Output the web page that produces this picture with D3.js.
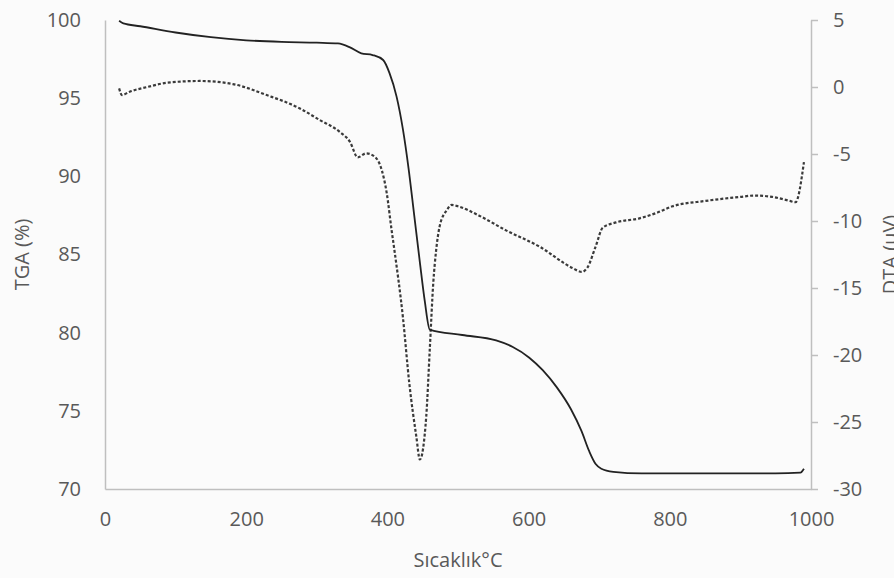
<!DOCTYPE html>
<html>
<head>
<meta charset="utf-8">
<script src="https://cdn.jsdelivr.net/npm/d3@7"></script>
<style>
  html, body { margin: 0; padding: 0; background: #fbfbfb; }
  svg { display: block; }
  .tick text, .axis-title { font-family: 'Open Sans', sans-serif; fill: #595959; }
</style>
</head>
<body>
<svg id="canvas"></svg>
<script>
////////////////////////////////////////////////////////////////////////////////
// Chart data.
////////////////////////////////////////////////////////////////////////////////

// TGA curve (temperature in °C, mass in %).
var tgaTemps = [20, 26, 50, 100, 150, 200, 250, 300, 330, 347, 363, 379, 394,
  403, 413, 422, 430, 438, 446, 453, 460, 506, 554, 577, 601, 620, 640, 660,
  675, 686, 695, 703, 720, 760, 850, 950, 985, 990];
var tgaValues = [99.95, 99.78, 99.6, 99.2, 98.9, 98.7, 98.6, 98.55, 98.5,
  98.25, 97.87, 97.76, 97.44, 96.6, 95.1, 93.0, 90.5, 87.5, 84.5, 82.0, 80.2,
  79.85, 79.5, 79.1, 78.4, 77.6, 76.5, 75.1, 73.7, 72.4, 71.6, 71.3, 71.1,
  71.0, 71.0, 71.0, 71.05, 71.3];

// DTA curve (temperature in °C, signal in µV).
var dtaTemps = [20, 24, 35, 60, 88, 134, 181, 229, 276, 304, 332, 347, 358,
  370, 382, 392, 399, 406, 410, 422, 431, 441, 446, 455, 460, 465, 469, 474,
  484, 491, 500, 530, 568, 615, 662, 675, 683, 695, 705, 724, 757, 781, 804,
  851, 900, 920, 945, 970, 978, 990];
var dtaValues = [-0.1, -0.6, -0.35, 0.0, 0.32, 0.45, 0.22, -0.6, -1.6, -2.46,
  -3.33, -4.1, -5.25, -4.95, -5.2, -6.2, -7.9, -10.7, -12.2, -17.2, -22.1,
  -26.1, -27.8, -24.6, -19.6, -14.6, -12.2, -10.4, -9.2, -8.8, -8.9, -9.6,
  -10.7, -11.9, -13.5, -13.8, -13.5, -11.9, -10.5, -10.1, -9.8, -9.4, -8.9,
  -8.5, -8.2, -8.1, -8.2, -8.5, -8.6, -5.6];

// Tick labels.
var xTicks = [0, 200, 400, 600, 800, 1000];
var tgaTicks = [70, 75, 80, 85, 90, 95, 100];
var dtaTicks = [-30, -25, -20, -15, -10, -5, 0, 5];

// Axis titles.
var titles = {
  x: 'Sıcaklık°C',
  left: 'TGA (%)',
  right: 'DTA (µV)'
};

// Translation function.
var translation = function(x, y, r) {
  return 'translate(' + x + ',' + y + ')' + 'rotate(' + r + ')';
}

// Plain number labels (no thousands separator, ascii minus).
var plain = function(d) { return String(d); };

// Canvas properties.
var canvas = { width: 894, height: 578 };

// Plot area.
var plot = { left: 105, right: 811, top: 20, bottom: 489 };

var axisColour = '#bfbfbf';
var fontSize = 20;

var svg = d3.select('#canvas')
            .attr('width', canvas.width)
            .attr('height', canvas.height);

////////////////////////////////////////////////////////////////////////////////
// Scales.
////////////////////////////////////////////////////////////////////////////////
var xScale = d3.scaleLinear().domain([0, 1000]).range([plot.left, plot.right]);
var yLeft = d3.scaleLinear().domain([70, 100]).range([plot.bottom, plot.top]);
var yRight = d3.scaleLinear().domain([-30, 5]).range([plot.bottom, plot.top]);

////////////////////////////////////////////////////////////////////////////////
// Axes.
////////////////////////////////////////////////////////////////////////////////
function styleAxis(g) {
  g.select('.domain').attr('stroke', axisColour).attr('stroke-width', 1.5);
  g.selectAll('.tick line').attr('stroke', axisColour).attr('stroke-width', 1.5);
  g.selectAll('.tick text').style('font-size', fontSize + 'px');
}

// Bottom axis.
svg.append('g')
   .attr('transform', translation(0, plot.bottom, 0))
   .call(d3.axisBottom(xScale).tickValues(xTicks).tickFormat(plain)
           .tickSize(0).tickPadding(23).tickSizeOuter(0))
   .call(styleAxis);

// Left axis (TGA).
svg.append('g')
   .attr('transform', translation(plot.left, 0, 0))
   .call(d3.axisLeft(yLeft).tickValues(tgaTicks).tickFormat(plain)
           .tickSize(0).tickPadding(24).tickSizeOuter(0))
   .call(styleAxis);

// Right axis (DTA).
svg.append('g')
   .attr('transform', translation(plot.right, 0, 0))
   .call(d3.axisRight(yRight).tickValues(dtaTicks).tickFormat(plain)
           .tickSize(7).tickPadding(15).tickSizeOuter(0))
   .call(styleAxis);

// Axis titles.
svg.append('text')
   .attr('class', 'axis-title')
   .attr('text-anchor', 'middle')
   .style('font-size', fontSize + 'px')
   .attr('transform', translation((plot.left + plot.right) / 2, 567, 0))
   .text(titles.x);

svg.append('text')
   .attr('class', 'axis-title')
   .attr('text-anchor', 'middle')
   .style('font-size', fontSize + 'px')
   .attr('transform', translation(29, (plot.top + plot.bottom) / 2, -90))
   .text(titles.left);

svg.append('text')
   .attr('class', 'axis-title')
   .attr('text-anchor', 'middle')
   .style('font-size', fontSize + 'px')
   .attr('transform', translation(897, (plot.top + plot.bottom) / 2, -90))
   .text(titles.right);

////////////////////////////////////////////////////////////////////////////////
// Curves.
////////////////////////////////////////////////////////////////////////////////
var tgaData = tgaTemps.map(function(t, i) { return [t, tgaValues[i]]; });
var dtaData = dtaTemps.map(function(t, i) { return [t, dtaValues[i]]; });

var tgaLine = d3.line()
                .x(function(d) { return xScale(d[0]); })
                .y(function(d) { return yLeft(d[1]); })
                .curve(d3.curveMonotoneX);

var dtaLine = d3.line()
                .x(function(d) { return xScale(d[0]); })
                .y(function(d) { return yRight(d[1]); })
                .curve(d3.curveMonotoneX);

svg.append('path')
   .datum(dtaData)
   .attr('d', dtaLine)
   .attr('fill', 'none')
   .attr('stroke', '#3a3a3a')
   .attr('stroke-width', 2.2)
   .attr('stroke-dasharray', '3,2');

svg.append('path')
   .datum(tgaData)
   .attr('d', tgaLine)
   .attr('fill', 'none')
   .attr('stroke', '#222222')
   .attr('stroke-width', 1.8);
</script>
</body>
</html>
